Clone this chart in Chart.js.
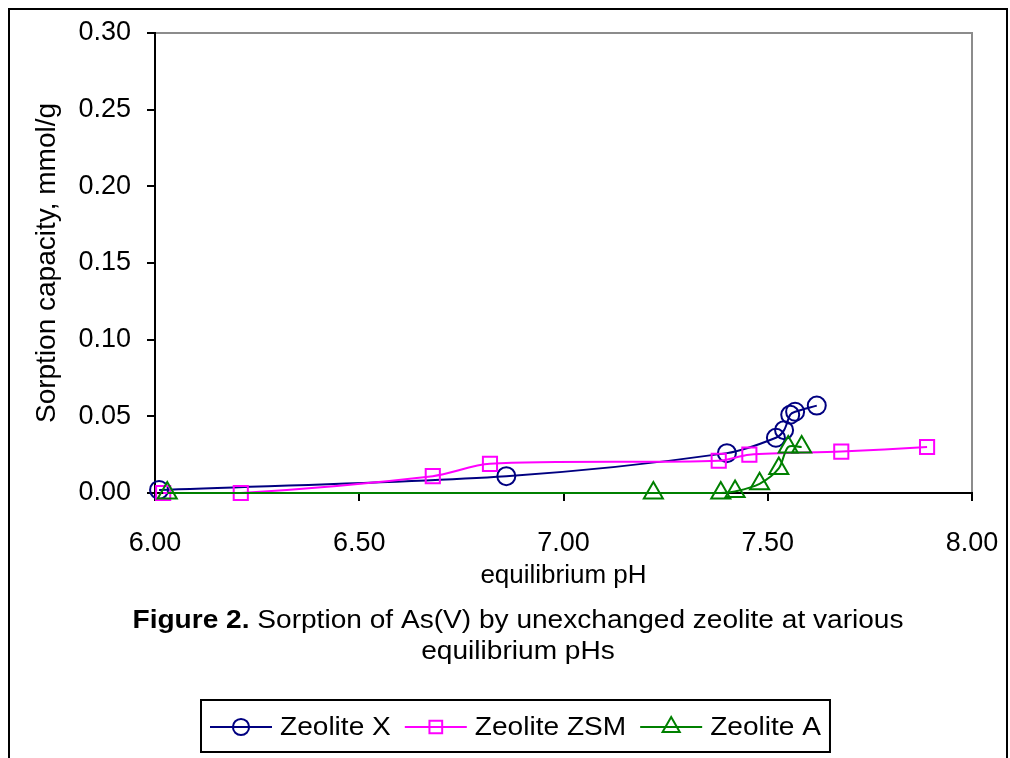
<!DOCTYPE html>
<html>
<head>
<meta charset="utf-8">
<script src="https://cdn.jsdelivr.net/npm/chart.js@4"></script>
<style>
  html, body { margin: 0; padding: 0; background: #fff; }
  #wrap { width: 1010px; height: 758px; }
</style>
</head>
<body>
<div id="wrap"><canvas id="sorption" width="1010" height="758"></canvas></div>
<script>
// values (pH, mmol/g)
const seriesNames = ['Zeolite X', 'Zeolite ZSM', 'Zeolite A'];

const phX  = [6.01, 6.86, 7.40, 7.52, 7.54, 7.555, 7.567, 7.62];
const capX = [0.002, 0.011, 0.026, 0.036, 0.041, 0.051, 0.053, 0.057];

const phZSM  = [6.02, 6.21, 6.68, 6.82, 7.38, 7.455, 7.68, 7.89];
const capZSM = [0.000, 0.000, 0.011, 0.019, 0.021, 0.025, 0.027, 0.030];

const phA  = [6.03, 7.22, 7.385, 7.42, 7.48, 7.527, 7.55, 7.583];
const capA = [0.000, 0.000, 0.000, 0.001, 0.006, 0.016, 0.030, 0.030];

const xTicks = [6.00, 6.50, 7.00, 7.50, 8.00];
const yTicks = [0.00, 0.05, 0.10, 0.15, 0.20, 0.25, 0.30];

const colors = ['#000080', '#FF00FF', '#008000'];
const markers = ['circle', 'rect', 'triangle'];
const radii = [9, 10, 11];

const FONT = '"Liberation Sans", Arial, sans-serif';

function pairs(xs, ys) {
  return xs.map((x, i) => ({ x: x, y: ys[i] }));
}

const seriesData = [pairs(phX, capX), pairs(phZSM, capZSM), pairs(phA, capA)];

// text a bit wider than the font, like the original figure
function wideText(ctx, txt, x, y, sx) {
  ctx.save();
  ctx.translate(x, y);
  ctx.scale(sx, 1);
  ctx.fillText(txt, 0, 0);
  ctx.restore();
}

// frame, caption, axis titles and the boxed legend
const decor = {
  id: 'decor',
  beforeDraw(chart) {
    const ctx = chart.ctx;
    const a = chart.chartArea;
    ctx.save();
    ctx.fillStyle = '#fff';
    ctx.fillRect(0, 0, chart.width, chart.height);
    ctx.strokeStyle = '#000';
    ctx.lineWidth = 2;
    ctx.strokeRect(9, 9, 998, 800);
    ctx.strokeStyle = '#8c8c8c';
    ctx.lineWidth = 2;
    ctx.beginPath();
    ctx.moveTo(a.left, a.top);
    ctx.lineTo(a.right, a.top);
    ctx.lineTo(a.right, a.bottom);
    ctx.stroke();
    ctx.restore();
  },
  afterDraw(chart) {
    const ctx = chart.ctx;
    const a = chart.chartArea;
    const sx = 1.08;
    ctx.save();
    ctx.fillStyle = '#000';
    ctx.textBaseline = 'middle';

    // axis titles
    ctx.font = '26px ' + FONT;
    ctx.textAlign = 'center';
    ctx.fillText('equilibrium pH', (a.left + a.right) / 2, 576);
    ctx.save();
    ctx.font = '28px ' + FONT;
    ctx.translate(47, 263);
    ctx.rotate(-Math.PI / 2);
    ctx.fillText('Sorption capacity, mmol/g', 0, 0);
    ctx.restore();

    // caption
    const cx = 518;
    const bold = 'Figure 2.';
    const rest = ' Sorption of As(V) by unexchanged zeolite at various';
    ctx.font = 'bold 26px ' + FONT;
    const wb = ctx.measureText(bold).width * sx;
    ctx.font = '26px ' + FONT;
    const wr = ctx.measureText(rest).width * sx;
    const x0 = cx - (wb + wr) / 2;
    ctx.textAlign = 'left';
    ctx.font = 'bold 26px ' + FONT;
    wideText(ctx, bold, x0, 621, sx);
    ctx.font = '26px ' + FONT;
    wideText(ctx, rest, x0 + wb, 621, sx);
    ctx.textAlign = 'center';
    wideText(ctx, 'equilibrium pHs', cx, 652, sx);

    // legend
    ctx.font = '26px ' + FONT;
    const lineLen = 62, gap = 8, itemGap = 14, boxPad = 9;
    const widths = seriesNames.map(n => ctx.measureText(n).width * sx);
    let total = 0;
    widths.forEach(w => { total += lineLen + gap + w; });
    total += itemGap * (seriesNames.length - 1);
    const boxL = 201;
    ctx.strokeStyle = '#000';
    ctx.lineWidth = 2;
    ctx.strokeRect(boxL, 700, total + boxPad * 2, 52);
    let x = boxL + boxPad;
    const ly = 727;
    seriesNames.forEach((name, i) => {
      ctx.strokeStyle = colors[i];
      ctx.fillStyle = 'rgba(0,0,0,0)';
      ctx.lineWidth = 2;
      ctx.beginPath();
      ctx.moveTo(x, ly);
      ctx.lineTo(x + lineLen, ly);
      ctx.stroke();
      Chart.helpers.drawPoint(ctx, {
        pointStyle: markers[i], radius: radii[i] * 0.9, rotation: 0, borderWidth: 2
      }, x + lineLen / 2, ly);
      ctx.fillStyle = '#000';
      ctx.textAlign = 'left';
      wideText(ctx, name, x + lineLen + gap, ly + 1, sx);
      x += lineLen + gap + widths[i] + itemGap;
    });
    ctx.restore();
  }
};

new Chart(document.getElementById('sorption'), {
  type: 'scatter',
  data: {
    datasets: seriesNames.map((name, i) => ({
      label: name,
      data: seriesData[i],
      showLine: true,
      tension: 0.3,
      clip: false,
      borderColor: colors[i],
      borderWidth: 2,
      backgroundColor: 'rgba(0,0,0,0)',
      pointStyle: markers[i],
      pointRadius: radii[i],
      pointHoverRadius: radii[i],
      pointBorderWidth: 2,
      pointBorderColor: colors[i],
      pointBackgroundColor: 'rgba(0,0,0,0)',
      order: 3 - i
    }))
  },
  options: {
    responsive: false,
    animation: false,
    layout: { padding: { left: 10, top: 33, right: 38, bottom: 205 } },
    plugins: {
      legend: { display: false },
      tooltip: { enabled: false }
    },
    scales: {
      x: {
        type: 'linear',
        min: 6, max: 8,
        afterBuildTicks: s => { s.ticks = xTicks.map(v => ({ value: v })); },
        afterFit: s => { s.height = 60; s.paddingLeft = 0; s.paddingRight = 0; },
        ticks: {
          color: '#000',
          font: { family: FONT, size: 27 },
          padding: 26,
          maxRotation: 0,
          callback: v => v.toFixed(2)
        },
        grid: { drawOnChartArea: false, drawTicks: true, tickLength: 8, color: '#000', lineWidth: 2 },
        border: { color: '#000', width: 2 }
      },
      y: {
        min: 0, max: 0.3,
        afterBuildTicks: s => { s.ticks = yTicks.map(v => ({ value: v })); },
        afterFit: s => { s.width = 145; s.paddingTop = 0; s.paddingBottom = 0; },
        ticks: {
          color: '#000',
          font: { family: FONT, size: 27 },
          padding: 16,
          callback: v => v.toFixed(2)
        },
        grid: { drawOnChartArea: false, drawTicks: true, tickLength: 8, color: '#000', lineWidth: 2 },
        border: { color: '#000', width: 2 }
      }
    }
  },
  plugins: [decor]
});
</script>
</body>
</html>
